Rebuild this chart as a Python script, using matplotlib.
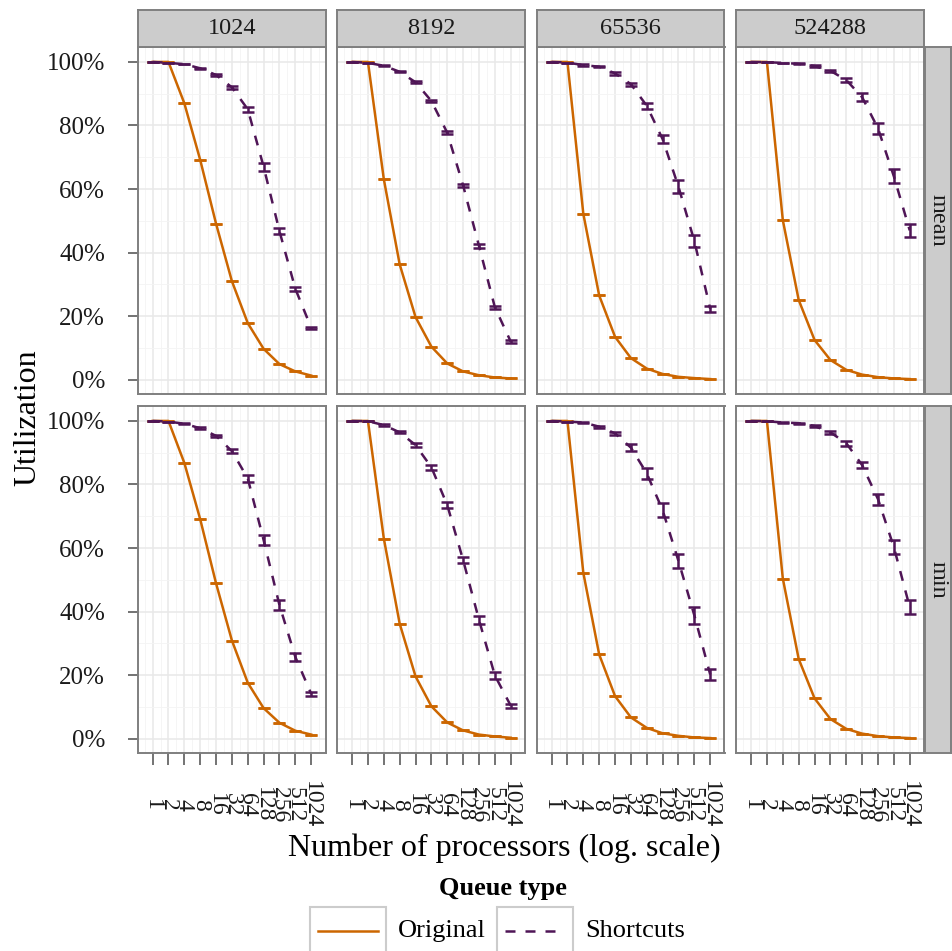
import matplotlib
matplotlib.use("Agg")
import matplotlib.pyplot as plt
from matplotlib.patches import Rectangle
from matplotlib.lines import Line2D
from matplotlib.ticker import FuncFormatter, NullFormatter

plt.rcParams['font.family'] = ['Liberation Serif', 'DejaVu Serif']

# ---- data ----
procs = [1, 2, 4, 8, 16, 32, 64, 128, 256, 512, 1024]
queue_sizes = ['1024', '8192', '65536', '524288']
stats = ['mean', 'min']

orig_mean = {
    '1024':   [1.0, 1.0, 0.870, 0.692, 0.491, 0.310, 0.178, 0.097, 0.049, 0.026, 0.013],
    '8192':   [1.0, 1.0, 0.631, 0.363, 0.197, 0.104, 0.051, 0.026, 0.014, 0.007, 0.004],
    '65536':  [1.0, 1.0, 0.522, 0.265, 0.135, 0.068, 0.035, 0.018, 0.009, 0.005, 0.002],
    '524288': [1.0, 1.0, 0.502, 0.251, 0.125, 0.062, 0.031, 0.016, 0.008, 0.004, 0.002],
}
orig_min = {
    '1024':   [1.0, 1.0, 0.868, 0.691, 0.489, 0.309, 0.176, 0.096, 0.050, 0.025, 0.013],
    '8192':   [1.0, 1.0, 0.630, 0.362, 0.196, 0.102, 0.051, 0.026, 0.013, 0.007, 0.003],
    '65536':  [1.0, 1.0, 0.522, 0.265, 0.134, 0.067, 0.034, 0.017, 0.009, 0.004, 0.002],
    '524288': [1.0, 1.0, 0.504, 0.251, 0.127, 0.062, 0.031, 0.016, 0.008, 0.004, 0.002],
}
short_mean = {
    '1024':   [1.0, 0.997, 0.993, 0.980, 0.959, 0.920, 0.851, 0.670, 0.467, 0.286, 0.163],
    '8192':   [1.0, 0.997, 0.988, 0.969, 0.936, 0.877, 0.777, 0.611, 0.421, 0.228, 0.120],
    '65536':  [1.0, 0.998, 0.990, 0.985, 0.964, 0.930, 0.862, 0.757, 0.607, 0.436, 0.223],
    '524288': [1.0, 0.999, 0.997, 0.994, 0.987, 0.972, 0.943, 0.889, 0.791, 0.640, 0.470],
}
short_min = {
    '1024':   [1.0, 0.998, 0.991, 0.977, 0.953, 0.905, 0.819, 0.625, 0.420, 0.257, 0.141],
    '8192':   [1.0, 0.999, 0.987, 0.964, 0.924, 0.854, 0.735, 0.562, 0.374, 0.199, 0.104],
    '65536':  [1.0, 0.998, 0.995, 0.982, 0.961, 0.916, 0.835, 0.719, 0.559, 0.388, 0.202],
    '524288': [1.0, 0.999, 0.995, 0.993, 0.984, 0.964, 0.930, 0.861, 0.754, 0.603, 0.414],
}
short_mean_err = {
    '1024':   [0, 0, 0.001, 0.002, 0.003, 0.004, 0.008, 0.012, 0.010, 0.006, 0.004],
    '8192':   [0, 0, 0.002, 0.002, 0.003, 0.004, 0.005, 0.005, 0.005, 0.005, 0.004],
    '65536':  [0, 0, 0.002, 0.002, 0.004, 0.005, 0.010, 0.013, 0.020, 0.018, 0.010],
    '524288': [0, 0, 0.001, 0.002, 0.002, 0.003, 0.005, 0.013, 0.017, 0.022, 0.020],
}
short_min_err = {
    '1024':   [0, 0, 0.002, 0.003, 0.004, 0.006, 0.010, 0.015, 0.016, 0.012, 0.007],
    '8192':   [0, 0, 0.002, 0.003, 0.005, 0.008, 0.009, 0.010, 0.012, 0.010, 0.006],
    '65536':  [0, 0, 0.002, 0.003, 0.005, 0.010, 0.017, 0.022, 0.023, 0.028, 0.018],
    '524288': [0, 0, 0.001, 0.002, 0.003, 0.005, 0.008, 0.010, 0.017, 0.021, 0.021],
}

orig_data = {'mean': orig_mean, 'min': orig_min}
short_data = {'mean': short_mean, 'min': short_min}
short_err = {'mean': short_mean_err, 'min': short_min_err}

ORANGE = '#CC6600'
PURPLE = '#4F1556'
GRID_MAJ = '#E8E8E8'
GRID_MIN = '#F4F4F4'
BORDER = '#7F7F7F'
STRIP = '#CCCCCC'

W, H = 953, 951
fig = plt.figure(figsize=(W / 100, H / 100), dpi=100)


def rect(x0, y0, x1, y1):
    return [x0 / W, 1 - y1 / H, (x1 - x0) / W, (y1 - y0) / H]


col_left = [138, 337.5, 537, 736.5]
col_w = 187.5
row_top = [47, 406]
row_h = 347

for r, stat in enumerate(stats):
    for c, q in enumerate(queue_sizes):
        x0 = col_left[c]
        y0 = row_top[r]
        ax = fig.add_axes(rect(x0, y0, x0 + col_w, y0 + row_h))
        ax.set_xscale('log', base=2)
        ax.set_xlim(2 ** -0.92, 2 ** 10.9)
        ax.set_ylim(-0.045, 1.047)

        ax.set_xticks(procs)
        ax.set_xticks([2 ** (k + 0.5) for k in range(-1, 11)], minor=True)
        ax.xaxis.set_minor_formatter(NullFormatter())
        ax.set_yticks([0, 0.2, 0.4, 0.6, 0.8, 1.0])
        ax.set_yticks([0.1, 0.3, 0.5, 0.7, 0.9], minor=True)
        ax.grid(which='major', color=GRID_MAJ, lw=1.1)
        ax.grid(which='minor', color=GRID_MIN, lw=0.6)
        ax.set_axisbelow(True)
        for s in ax.spines.values():
            s.set_color(BORDER)
            s.set_linewidth(1.4)

        ax.tick_params(which='minor', length=0)
        ax.tick_params(which='major', color='#4D4D4D', width=1.1)

        # Original
        ax.errorbar(procs, orig_data[stat][q], yerr=[0] * len(procs), fmt='none',
                    ecolor=ORANGE, elinewidth=1.8, capsize=4.6, capthick=1.8, zorder=3)
        ax.plot(procs, orig_data[stat][q], color=ORANGE, lw=1.8, zorder=3)
        # Shortcuts
        ax.errorbar(procs, short_data[stat][q], yerr=short_err[stat][q], fmt='none',
                    ecolor=PURPLE, elinewidth=1.8, capsize=4.6, capthick=1.8, zorder=4)
        ax.plot(procs, short_data[stat][q], color=PURPLE, lw=1.8,
                dashes=(4, 4), zorder=4)

        if c == 0:
            ax.yaxis.set_major_formatter(FuncFormatter(lambda v, p: '%d%%' % round(v * 100)))
            ax.tick_params(axis='y', which='major', length=7.2, pad=16.5,
                           labelsize=18, labelcolor='#1A1A1A')
        else:
            ax.tick_params(axis='y', which='major', length=0, labelleft=False)

        if r == 1:
            ax.set_xticklabels([str(p) for p in procs])
            ax.tick_params(axis='x', which='major', length=8.6, pad=28.5,
                           labelsize=17, labelcolor='#1A1A1A')
            for lab in ax.get_xticklabels():
                lab.set_rotation(-90)
                lab.set_va('center')
                lab.set_ha('center')
        else:
            ax.tick_params(axis='x', which='major', length=0, labelbottom=False)

        # top strips
        if r == 0:
            sx = fig.add_axes(rect(x0, 10, x0 + col_w, 47))
            sx.set_facecolor(STRIP)
            sx.set_xticks([])
            sx.set_yticks([])
            for s in sx.spines.values():
                s.set_color(BORDER)
                s.set_linewidth(1.4)
            sx.text(0.5, 0.5, q, ha='center', va='center', fontsize=17.5,
                    color='#1A1A1A', transform=sx.transAxes)

    # right strips
    sy = fig.add_axes(rect(925, row_top[r], 951, row_top[r] + row_h))
    sy.set_facecolor(STRIP)
    sy.set_xticks([])
    sy.set_yticks([])
    for s in sy.spines.values():
        s.set_color(BORDER)
        s.set_linewidth(1.4)
    sy.text(0.5, 0.5, stat, ha='center', va='center', rotation=-90,
            fontsize=17.5, color='#1A1A1A', transform=sy.transAxes)

# axis titles
fig.text(28 / W, 1 - 418 / H, 'Utilization', rotation=90, ha='center', va='center',
         fontsize=23)
fig.text(504 / W, 1 - 848 / H, 'Number of processors (log. scale)', ha='center',
         va='center', fontsize=23)

# legend (drawn by hand to mimic ggplot's boxed keys)
fig.text(503 / W, 1 - 889 / H, 'Queue type', ha='center', va='center',
         fontsize=19, fontweight='bold')
for (bx0, bx1, color, dash, label, lx) in [
        (310, 386, ORANGE, None, 'Original', 398),
        (497, 573, PURPLE, (4, 4), 'Shortcuts', 585)]:
    fig.add_artist(Rectangle((bx0 / W, 1 - 956 / H), (bx1 - bx0) / W, 49 / H,
                             transform=fig.transFigure, facecolor='white',
                             edgecolor='#CCCCCC', lw=1.5))
    ln = Line2D([(bx0 + 8) / W, (bx1 - 8) / W], [1 - 931 / H, 1 - 931 / H],
                transform=fig.transFigure, color=color, lw=1.8)
    if dash:
        ln.set_dashes(dash)
    fig.add_artist(ln)
    fig.text(lx / W, 1 - 931 / H, label, ha='left', va='center', fontsize=19)

fig.savefig('out.png', dpi=100)
